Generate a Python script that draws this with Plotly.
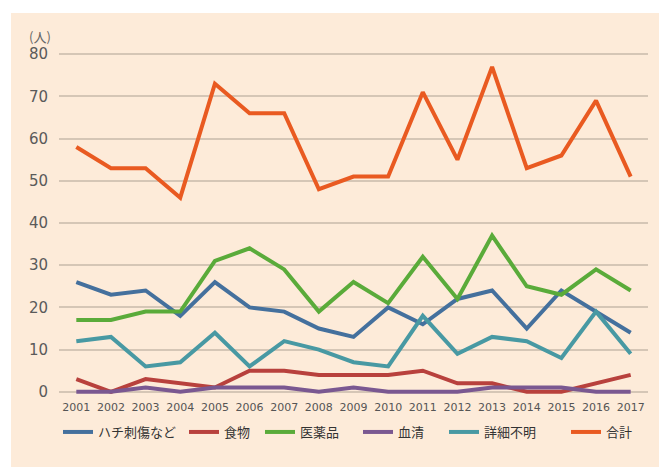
import plotly.graph_objects as go

years = [str(y) for y in range(2001, 2018)]
bee = [26, 23, 24, 18, 26, 20, 19, 15, 13, 20, 16, 22, 24, 15, 24, 19, 14]
food = [3, 0, 3, 2, 1, 5, 5, 4, 4, 4, 5, 2, 2, 0, 0, 2, 4]
medicine = [17, 17, 19, 19, 31, 34, 29, 19, 26, 21, 32, 22, 37, 25, 23, 29, 24]
serum = [0, 0, 1, 0, 1, 1, 1, 0, 1, 0, 0, 0, 1, 1, 1, 0, 0]
unknown = [12, 13, 6, 7, 14, 6, 12, 10, 7, 6, 18, 9, 13, 12, 8, 19, 9]
total = [58, 53, 53, 46, 73, 66, 66, 48, 51, 51, 71, 55, 77, 53, 56, 69, 51]

series_names = ["ハチ刺傷など", "食物", "医薬品", "血清", "詳細不明", "合計"]
series_values = [bee, food, medicine, serum, unknown, total]
series_colors = ["#44709d", "#b8413d", "#5aab3a", "#7a5891", "#4899a3", "#e95a21"]
y_ticks = [0, 10, 20, 30, 40, 50, 60, 70, 80]

W, H = 659, 467
ml, mr, mt, mb = 59, 11, 50, 71
pw = W - ml - mr
ph = H - mt - mb

# legend text start pixels (from reference)
legend_text_px = [98, 224, 300, 398, 484, 606]
legend_y_px = 432

fig = go.Figure()
legend_layouts = {}
for i, (name, vals, col) in enumerate(zip(series_names, series_values, series_colors)):
    lg = "legend" if i == 0 else f"legend{i + 1}"
    fig.add_trace(go.Scatter(
        x=years, y=vals, name=name, mode="lines",
        line=dict(color=col, width=4), legend=lg,
    ))
    legend_layouts[lg] = dict(
        orientation="h", x=(legend_text_px[i] - 40 - ml) / pw, xanchor="left",
        y=(H - legend_y_px - mb) / ph, yanchor="middle",
        font=dict(size=13, color="#333333", family="Noto Sans CJK JP"),
        bgcolor="rgba(0,0,0,0)", itemwidth=30,
    )

# background panel
fig.add_shape(type="rect", xref="paper", yref="paper",
              x0=(11 - ml) / pw, x1=(W - ml) / pw + 0.01,
              y0=-mb / ph - 0.01, y1=(H - 13 - mb) / ph,
              fillcolor="#fdebd9", line=dict(width=0), layer="below")

fig.add_annotation(text="(人)", xref="paper", yref="paper",
                   x=(40 - ml) / pw, y=(H - 36 - mb) / ph,
                   xanchor="center", yanchor="middle",
                   showarrow=False, font=dict(size=13, color="#666666",
                                              family="Noto Sans CJK JP"))

fig.update_layout(
    width=W, height=H,
    margin=dict(l=ml, r=mr, t=mt, b=mb),
    paper_bgcolor="white",
    plot_bgcolor="rgba(0,0,0,0)",
    showlegend=True,
    font=dict(family="DejaVu Sans"),
    **legend_layouts,
)
fig.update_xaxes(
    type="category", range=[-0.5, 16.5], showgrid=False, zeroline=False,
    showline=False, ticks="", ticklabelstandoff=3,
    tickfont=dict(size=11, color="#555555", family="DejaVu Sans"),
)
fig.update_yaxes(
    range=[-1, 81], tickvals=y_ticks, showgrid=True, gridcolor="#d5c6b6",
    gridwidth=2, zeroline=False, showline=False, ticks="",
    ticklabelstandoff=10,
    tickfont=dict(size=15, color="#5a5a5a", family="DejaVu Sans"),
)

fig.write_html("out.html", config={"displayModeBar": False},
               post_script="document.body.style.margin='0';document.body.style.overflow='hidden';")
